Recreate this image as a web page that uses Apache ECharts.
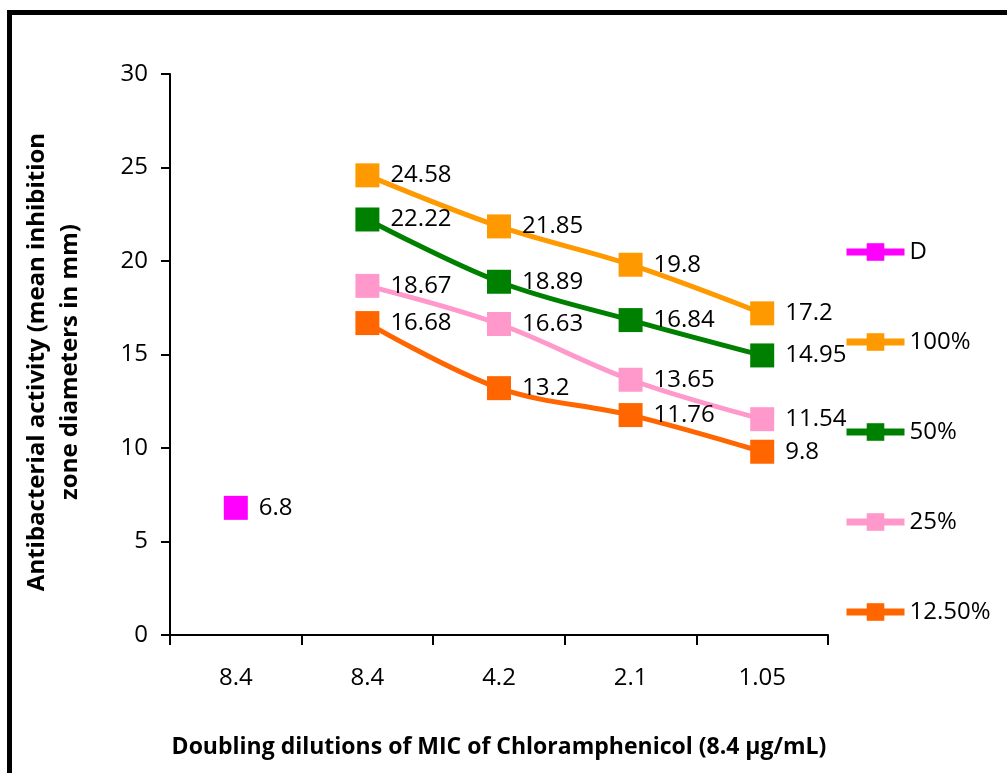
<!DOCTYPE html>
<html>
<head>
<meta charset="utf-8">
<script src="https://cdn.jsdelivr.net/npm/echarts@6/dist/echarts.min.js"></script>
<style>
html,body{margin:0;padding:0;background:#fff;}
#chart{width:1007px;height:773px;}
</style>
</head>
<body>
<div id="chart"></div>
<script>
const categories = ['8.4', '8.4', '4.2', '2.1', '1.05'];
const seriesNames = ['D', '100%', '50%', '25%', '12.50%'];
const dValues = [6.8, null, null, null, null];
const v100 = [null, 24.58, 21.85, 19.8, 17.2];
const v50 = [null, 22.22, 18.89, 16.84, 14.95];
const v25 = [null, 18.67, 16.63, 13.65, 11.54];
const v12 = [null, 16.68, 13.2, 11.76, 9.8];
const yTicks = { min: 0, max: 30, interval: 5 };
const xTitle = 'Doubling dilutions of MIC of Chloramphenicol (8.4 μg/mL)';
const yTitle = 'Antibacterial activity (mean inhibition\nzone diameters in mm)';

const colors = ['#FF00FF', '#FF9900', '#008000', '#FF99CC', '#FF6600'];
const allValues = [dValues, v100, v50, v25, v12];
const FONT = '"Open Sans", "Noto Sans", sans-serif';

const chart = echarts.init(document.getElementById('chart'));
chart.setOption({
  animation: false,
  backgroundColor: '#fff',
  textStyle: { fontFamily: FONT },
  grid: { left: 170, right: 179, top: 74, bottom: 138, containLabel: false },
  xAxis: {
    type: 'category',
    data: categories,
    boundaryGap: true,
    axisLine: { lineStyle: { color: '#000', width: 2 } },
    axisTick: { show: true, length: 10, alignWithLabel: false, lineStyle: { color: '#000', width: 2 } },
    axisLabel: { color: '#000', fontSize: 24, margin: 31, fontFamily: FONT },
    name: xTitle,
    nameLocation: 'middle',
    nameGap: 101,
    nameTextStyle: { color: '#000', fontSize: 23, fontWeight: 'bold', fontFamily: FONT }
  },
  yAxis: {
    type: 'value',
    min: yTicks.min, max: yTicks.max, interval: yTicks.interval,
    splitLine: { show: false },
    axisLine: { show: true, lineStyle: { color: '#000', width: 2 } },
    axisTick: { show: true, length: 9, lineStyle: { color: '#000', width: 2 } },
    axisLabel: { color: '#000', fontSize: 24, margin: 22, fontFamily: FONT }
  },
  legend: {
    orient: 'vertical',
    left: 843,
    top: 240,
    itemWidth: 58,
    itemHeight: 22,
    itemGap: 66,
    padding: 0,
    lineStyle: { width: 7 },
    textStyle: { color: '#000', fontSize: 24, fontFamily: FONT, padding: [0, 0, 0, 0] },
    data: seriesNames
  },
  graphic: [
    { type: 'rect', shape: { x: 7, y: 10, width: 1000, height: 5 }, style: { fill: '#000' } },
    { type: 'rect', shape: { x: 7, y: 10, width: 5, height: 763 }, style: { fill: '#000' } },
    {
      type: 'text',
      x: 54, y: 362,
      rotation: Math.PI / 2,
      style: {
        text: yTitle,
        fill: '#000',
        font: 'bold 24px ' + FONT,
        align: 'center',
        verticalAlign: 'middle',
        lineHeight: 33
      }
    }
  ],
  series: allValues.map((vals, i) => ({
    name: seriesNames[i],
    type: 'line',
    data: vals,
    smooth: 0.35,
    connectNulls: false,
    symbol: 'rect',
    symbolSize: 24,
    color: colors[i],
    itemStyle: { color: colors[i] },
    lineStyle: { color: colors[i], width: 5 },
    label: {
      show: true,
      position: 'right',
      distance: 11,
      color: '#000',
      fontSize: 24,
      fontFamily: FONT
    }
  }))
});
</script>
</body>
</html>
